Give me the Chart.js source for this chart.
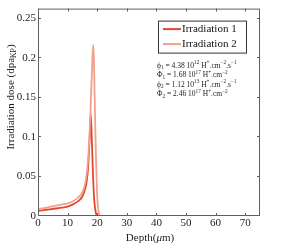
<!DOCTYPE html>
<html>
<head>
<meta charset="utf-8">
<script src="https://cdn.jsdelivr.net/npm/chart.js@4.4.0/dist/chart.umd.min.js"></script>
<style>
    html, body { margin: 0; padding: 0; background: #fff; }
</style>
</head>
<body>
<canvas id="doseChart" width="295" height="245"></canvas>
<script>
// Depth (um) and irradiation dose (dpa)
const depth1 = [0, 2, 4, 6, 8, 10, 12, 14, 15, 16, 16.5, 17, 17.4, 17.8, 18.2, 18.6, 19, 19.5, 20, 75];
const dose1 = [0.0065, 0.0075, 0.0085, 0.0095, 0.0105, 0.012, 0.015, 0.02, 0.025, 0.035, 0.045, 0.065, 0.095, 0.13, 0.095, 0.05, 0.02, 0.005, 0, 0];
const depth2 = [0, 2, 4, 6, 8, 10, 12, 14, 15, 16, 16.5, 17, 17.5, 18, 18.4, 18.7, 19, 19.3, 19.7, 20, 20.5, 21, 75];
const dose2 = [0.009, 0.01, 0.0115, 0.013, 0.0145, 0.016, 0.019, 0.025, 0.03, 0.042, 0.055, 0.075, 0.11, 0.16, 0.2, 0.217, 0.18, 0.12, 0.06, 0.025, 0.005, 0, 0];

const seriesLabels = ['Irradiation 1', 'Irradiation 2'];
const seriesColors = ['#e4472a', '#f2a08c'];

const xTicks = [0, 10, 20, 30, 40, 50, 60, 70];
const yTicks = [0, 0.05, 0.1, 0.15, 0.2, 0.25];

// Flux / fluence notes (_{} = subscript, ^{} = superscript, *{} = italic)
const fluxNotes = [
    'ϕ_{1} = 4.38 10^{12} H^{+}.cm^{−2}.s^{−1}',
    'Φ_{1} = 1.68 10^{17} H^{+}.cm^{−2}',
    'ϕ_{2} = 1.12 10^{13} H^{+}.cm^{−2}.s^{−1}',
    'Φ_{2} = 2.46 10^{17} H^{+}.cm^{−2}'
];
const xTitle = 'Depth(*{μ}m)';
const yTitle = 'Irradiation dose (dpa_{KP})';

const SERIF = '"Liberation Serif", "DejaVu Serif", serif';

function toPoints(xs, ys) {
    return xs.map((x, i) => ({ x: x, y: ys[i] }));
}

// Split 'a_{b}^{c}' style text into pieces
function parseRich(str) {
    const parts = [];
    const re = /([_^*])\{([^}]*)\}|([^_^*]+)/g;
    let m;
    while ((m = re.exec(str)) !== null) {
        if (m[3]) parts.push({ t: m[3] });
        else parts.push({ t: m[2], sub: m[1] === '_', sup: m[1] === '^', it: m[1] === '*' });
    }
    return parts;
}

function setFont(ctx, p, size) {
    const s = (p.sub || p.sup) ? size * 0.7 : size;
    ctx.font = `${p.it ? 'italic ' : ''}${s}px ${SERIF}`;
}

function richWidth(ctx, parts, size) {
    let w = 0;
    parts.forEach(p => {
        setFont(ctx, p, size);
        w += ctx.measureText(p.t).width;
    });
    return w;
}

function drawRich(ctx, parts, x, y, size) {
    let cx = x;
    parts.forEach(p => {
        setFont(ctx, p, size);
        const dy = p.sup ? -size * 0.38 : (p.sub ? size * 0.3 : 0);
        ctx.fillText(p.t, cx, y + dy);
        cx += ctx.measureText(p.t).width;
    });
}

// Box, inward ticks, legend, notes and axis titles
const matlabLook = {
    id: 'matlabLook',
    afterDatasetsDraw(chart) {
        const { ctx, chartArea, scales } = chart;
        const { left, right, top, bottom } = chartArea;
        ctx.save();
        ctx.strokeStyle = '#606060';
        ctx.lineWidth = 1;
        ctx.strokeRect(left + 0.5, top + 0.5, right - left - 1, bottom - top - 1);

        ctx.beginPath();
        xTicks.forEach(v => {
            const px = Math.round(scales.x.getPixelForValue(v)) + 0.5;
            ctx.moveTo(px, bottom); ctx.lineTo(px, bottom - 3);
            ctx.moveTo(px, top); ctx.lineTo(px, top + 3);
        });
        yTicks.forEach(v => {
            const py = Math.round(scales.y.getPixelForValue(v)) - 0.5;
            ctx.moveTo(left, py); ctx.lineTo(left + 3, py);
            ctx.moveTo(right, py); ctx.lineTo(right - 3, py);
        });
        ctx.stroke();

        // Legend
        const lx = left + 120, ly = top + 12, lw = 88, lh = 32;
        ctx.fillStyle = '#fff';
        ctx.fillRect(lx, ly, lw, lh);
        ctx.strokeStyle = '#333';
        ctx.strokeRect(lx + 0.5, ly + 0.5, lw, lh);
        ctx.textBaseline = 'middle';
        seriesLabels.forEach((label, i) => {
            const cy = ly + 8.5 + i * 15;
            ctx.strokeStyle = seriesColors[i];
            ctx.lineWidth = 2;
            ctx.beginPath();
            ctx.moveTo(lx + 5, cy); ctx.lineTo(lx + 23, cy);
            ctx.stroke();
            ctx.fillStyle = '#111';
            ctx.font = `11px ${SERIF}`;
            ctx.fillText(label, lx + 24, cy);
        });

        // Flux notes
        ctx.fillStyle = '#222';
        fluxNotes.forEach((note, i) => {
            drawRich(ctx, parseRich(note), left + 119, top + 57 + i * 9.6, 7.5);
        });

        // X axis title
        const xParts = parseRich(xTitle);
        const xw = richWidth(ctx, xParts, 11);
        drawRich(ctx, xParts, (left + right) / 2 + 1 - xw / 2, bottom + 22, 11);

        // Y axis title with subscript
        const yParts = parseRich(yTitle);
        ctx.translate(11, 97);
        ctx.rotate(-Math.PI / 2);
        const yw = richWidth(ctx, yParts, 11);
        drawRich(ctx, yParts, -yw / 2, 0, 11);
        ctx.restore();
    }
};

const ctx = document.getElementById('doseChart').getContext('2d');

const doseChart = new Chart(ctx, {
    type: 'line',
    data: {
        datasets: [
            {
                label: seriesLabels[0],
                data: toPoints(depth1, dose1),
                borderColor: seriesColors[0],
                borderWidth: 1.8,
                pointRadius: 0,
                cubicInterpolationMode: 'monotone',
                order: 1
            },
            {
                label: seriesLabels[1],
                data: toPoints(depth2, dose2),
                borderColor: seriesColors[1],
                borderWidth: 1.8,
                pointRadius: 0,
                cubicInterpolationMode: 'monotone',
                order: 0
            }
        ]
    },
    options: {
        responsive: false,
        animation: false,
        layout: { padding: { left: 0, right: 35, top: 6, bottom: 0 } },
        plugins: {
            legend: { display: false },
            tooltip: { enabled: false }
        },
        scales: {
            x: {
                type: 'linear',
                min: 0,
                max: 75,
                grid: { display: false, drawTicks: false },
                border: { display: false },
                afterFit: scale => { scale.height = 29; },
                afterBuildTicks: scale => { scale.ticks = xTicks.map(v => ({ value: v })); },
                ticks: {
                    padding: 1,
                    maxRotation: 0,
                    color: '#222',
                    font: { family: SERIF, size: 11 },
                    callback: v => String(v)
                }
            },
            y: {
                type: 'linear',
                min: 0,
                max: 0.2626,
                grid: { display: false, drawTicks: false },
                border: { display: false },
                afterFit: scale => { scale.width = 38; },
                afterBuildTicks: scale => { scale.ticks = yTicks.map(v => ({ value: v })); },
                ticks: {
                    padding: 2,
                    color: '#222',
                    font: { family: SERIF, size: 11 },
                    callback: v => String(+v.toFixed(2))
                }
            }
        }
    },
    plugins: [matlabLook]
});
</script>
</body>
</html>
